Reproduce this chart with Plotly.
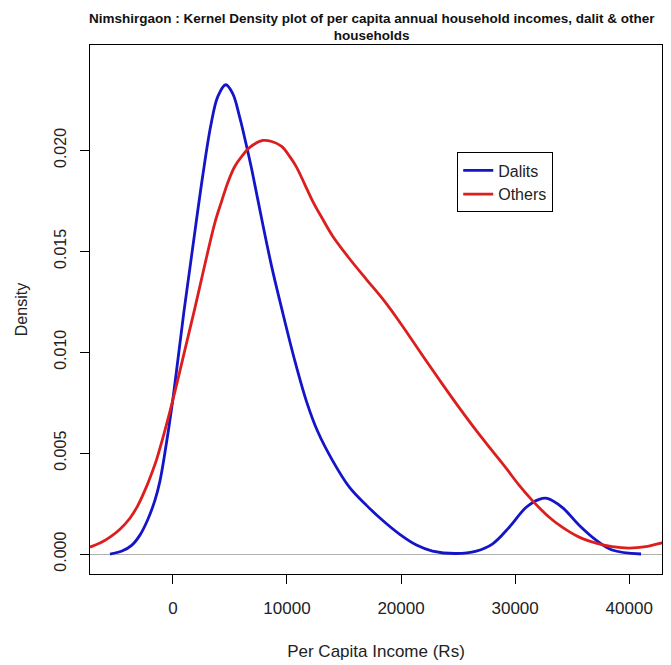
import plotly.graph_objects as go

# Dalits kernel density
dalits_x = [-5512, -4462, -3587, -2887, -2187, -1575, -1137, -700, -87, 437, 962, 1487, 2012,
            2625, 3325, 3937, 4637, 5249, 5862, 6387, 6912, 7787, 8662, 9536, 10674, 11724,
            12686, 13998, 15486, 16973, 18373, 19860, 21348, 22747, 24847, 26597, 27997,
            29484, 30971, 32109, 32809, 34121, 35608, 37095, 38496, 41033]
dalits_y = [0.0, 0.000148, 0.000443, 0.000936, 0.001724, 0.00266, 0.0036, 0.0050, 0.0073,
            0.0096, 0.01197, 0.01414, 0.01631, 0.01877, 0.02123, 0.02266, 0.02325, 0.02281,
            0.02163, 0.02039, 0.01906, 0.0166, 0.01424, 0.01217, 0.00961, 0.00754, 0.00608,
            0.00463, 0.0033, 0.00241, 0.00167, 0.000985, 0.000443, 0.000148, 0.000025,
            0.000148, 0.000493, 0.00133, 0.002315, 0.00271, 0.002759, 0.002315, 0.001429,
            0.00069, 0.000197, 0.0]

# Others kernel density
others_x = [-7262, -6387, -5512, -4637, -3762, -3062, -2450, -1925, -1400, -700, 175, 1050,
            1925, 2800, 3675, 4287, 4812, 5424, 6037, 6737, 7874, 8662, 9536, 10236, 10849,
            11549, 12249, 13124, 13998, 15486, 16973, 18373, 19598, 20735, 22047, 23622,
            25110, 26597, 27909, 29222, 30359, 31496, 32984, 34121, 35608, 37095, 38496,
            39982, 41470, 42782, 43657]
others_y = [0.000345, 0.000542, 0.000837, 0.001232, 0.001773, 0.002414, 0.003153, 0.003892,
            0.004729, 0.006108, 0.00803, 0.0101, 0.01217, 0.01433, 0.0164, 0.0175, 0.0184,
            0.0192, 0.0197, 0.02015, 0.02049, 0.02044, 0.0202, 0.0197, 0.01916, 0.01833,
            0.01749, 0.0166, 0.01576, 0.01463, 0.0136, 0.01265, 0.01172, 0.01079, 0.0097,
            0.00842, 0.00724, 0.00611, 0.00517, 0.00424, 0.0034, 0.00266, 0.00182, 0.00133,
            0.000837, 0.000542, 0.000369, 0.000296, 0.000369, 0.000542, 0.00069]

x_ticks = [0, 10000, 20000, 30000, 40000]
y_ticks = [0.000, 0.005, 0.010, 0.015, 0.020]
y_tick_labels = ["0.000", "0.005", "0.010", "0.015", "0.020"]

FONT = "Liberation Sans, Arial, sans-serif"
TXT = "#222222"

fig = go.Figure()
fig.add_trace(go.Scatter(x=dalits_x, y=dalits_y, mode="lines", name="Dalits",
                         line=dict(color="#1414c8", width=2.8, shape="spline", smoothing=1)))
fig.add_trace(go.Scatter(x=others_x, y=others_y, mode="lines", name="Others",
                         line=dict(color="#dc1e1e", width=2.8, shape="spline", smoothing=1)))

fig.update_layout(
    width=671, height=665,
    margin=dict(l=90, r=8, t=45, b=88),
    paper_bgcolor="white", plot_bgcolor="white",
    font=dict(family=FONT, color=TXT),
    title=dict(
        text="<b>Nimshirgaon : Kernel Density plot of per capita annual household incomes, dalit &amp; other<br>households</b>",
        x=0.554, xanchor="center", y=0.966, yanchor="top",
        font=dict(size=13.5, family=FONT, color="#111111"),
    ),
    showlegend=True,
    legend=dict(
        x=0.642, y=0.797, xanchor="left", yanchor="top",
        bordercolor="black", borderwidth=1, bgcolor="white",
        font=dict(size=16, family=FONT, color=TXT),
        tracegroupgap=0, itemwidth=30,
        entrywidth=88, entrywidthmode="pixels",
    ),
)

fig.update_xaxes(
    range=[-7262, 42870], tickvals=x_ticks, ticktext=[str(v) for v in x_ticks],
    showgrid=False, zeroline=False,
    showline=True, mirror=True, linecolor="black", linewidth=1,
    ticks="outside", ticklen=9, tickcolor="black", tickwidth=1,
    tickfont=dict(size=17, family=FONT, color=TXT),
    ticklabelstandoff=10,
    title=dict(text="Per Capita Income (Rs)", font=dict(size=17, family=FONT, color=TXT), standoff=27),
)
fig.update_yaxes(
    range=[-0.00099, 0.02522], tickvals=y_ticks, ticktext=y_tick_labels,
    showgrid=False, zeroline=True, zerolinecolor="#b0b0b0", zerolinewidth=1,
    showline=True, mirror=True, linecolor="black", linewidth=1,
    ticks="outside", ticklen=9, tickcolor="black", tickwidth=1, tickangle=-90,
    tickfont=dict(size=16, family=FONT, color=TXT),
    ticklabelstandoff=8,
    title=dict(text="Density", font=dict(size=16, family=FONT, color=TXT), standoff=19),
)

fig.write_html("out.html")
